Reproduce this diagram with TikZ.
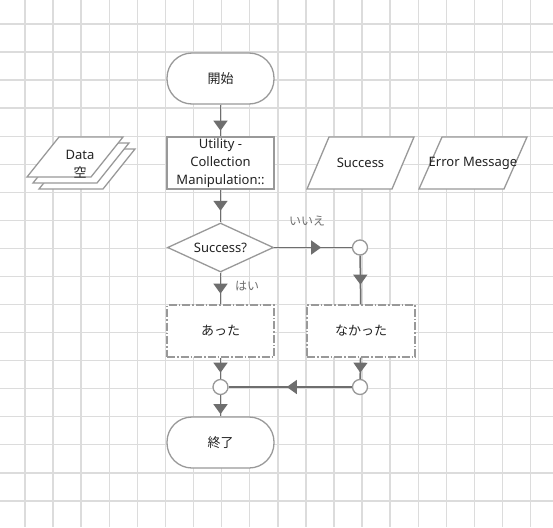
\documentclass[tikz,border=0pt]{standalone}
\usepackage{fontspec}
\setmainfont{Noto Sans}
\newfontfamily\jp{Noto Sans CJK JP}
\usetikzlibrary{arrows.meta,decorations.markings,shapes.geometric}
\definecolor{gridc}{HTML}{DCDCDC}
\definecolor{shapec}{HTML}{999999}
\definecolor{linec}{HTML}{6E6E6E}
\definecolor{txtc}{HTML}{222222}
\definecolor{lblc}{HTML}{707070}
\tikzset{
  gridl/.style={draw=gridc, line width=1.4pt},
  base/.style={draw=shapec, fill=white, line width=1.3pt, text=txtc, inner sep=1pt,
    font=\fontsize{13}{18}\selectfont},
  term/.style={base, rectangle, rounded corners=25pt, minimum width=107pt, minimum height=51pt},
  proc/.style={base, rectangle, minimum width=107pt, minimum height=52pt, align=center, line width=1.6pt},
  decis/.style={base, diamond, shape aspect=2.16, inner sep=0pt, minimum width=106pt, minimum height=49pt},
  dbox/.style={base, rectangle, minimum width=107pt, minimum height=52pt,
    dash pattern=on 8pt off 2pt on 1.5pt off 2pt},
  junc/.style={base, circle, minimum size=15pt, inner sep=0pt},
  iotext/.style={text=txtc, inner sep=0pt, font=\fontsize{13}{18}\selectfont},
  io/.style={draw=shapec, fill=white, line width=1.3pt},
  lbl/.style={text=lblc, inner sep=0pt, font=\jp\fontsize{12}{14}\selectfont},
  conn/.style={color=linec, line width=1.5pt},
  tipat/.style={postaction={decorate,decoration={markings,
    mark=at position #1 with {\arrow{Triangle[length=10pt,width=14pt]}}}}}
}
\begin{document}
\begin{tikzpicture}[x=1pt,y=-1pt]
\useasboundingbox (0,0) rectangle (553,527);
\fill[white] (0,0) rectangle (553,527);
% grid
\foreach \k in {0,...,18} {\draw[gridl] ({25+28.09*\k},0) -- ({25+28.09*\k},527);}
\foreach \k in {0,...,17} {\draw[gridl] (0,{24+28.05*\k}) -- (553,{24+28.05*\k});}

% main flow nodes
\node[term] (start) at (220.5,78.5) {\jp 開始};
\node[proc] (util) at (220.5,163) {Utility -\\Collection\\Manipulation::};
\node[decis] (dec) at (220.5,247.5) {Success?};
\node[dbox] (atta) at (220.5,331) {\jp あった};
\node[dbox, minimum width=108pt] (nakatta) at (361,331) {\jp なかった};
\node[junc] (c1) at (360,247.5) {};
\node[junc] (c2) at (220.5,387) {};
\node[junc] (c3) at (360,387) {};
\node[term] (end) at (220.5,442.5) {\jp 終了};

% data stack
\foreach \d in {12,6,0} {
  \draw[io] ({59+\d},{137+\d}) -- ({123+\d},{137+\d}) -- ({91+\d},{177+\d}) -- ({27+\d},{177+\d}) -- cycle;
}
\node[iotext, align=center, font=\fontsize{13}{18}\selectfont] (data) at (80,164) {Data\\{\jp 空}};

% io parallelograms
\draw[io] (329,137) -- (414,137) -- (392,189) -- (307,189) -- cycle;
\node[iotext] (succ) at (360.5,163) {Success};
\draw[io] (442,137) -- (527,137) -- (504,189) -- (419,189) -- cycle;
\node[iotext] (err) at (473,163) {Error Message};

% connectors
\draw[conn, tipat=26pt] (start) -- (util);
\draw[conn, tipat=21pt] (util) -- (dec);
\draw[conn, tipat=21pt] (dec) -- (atta);
\draw[conn, tipat=47pt] (dec) -- (c1);
\draw[conn, tipat=29pt] (c1) -- (nakatta);
\draw[conn, tipat=15pt] (atta) -- (c2);
\draw[conn, tipat=15pt] (nakatta) -- (c3);
\draw[conn, tipat=65pt] (c3) -- (c2);
\draw[conn, tipat=19pt] (c2) -- (end);

% labels
\node[lbl] (no) at (307,221) {いいえ};
\node[lbl] (yes) at (247,286) {はい};
\end{tikzpicture}
\end{document}
